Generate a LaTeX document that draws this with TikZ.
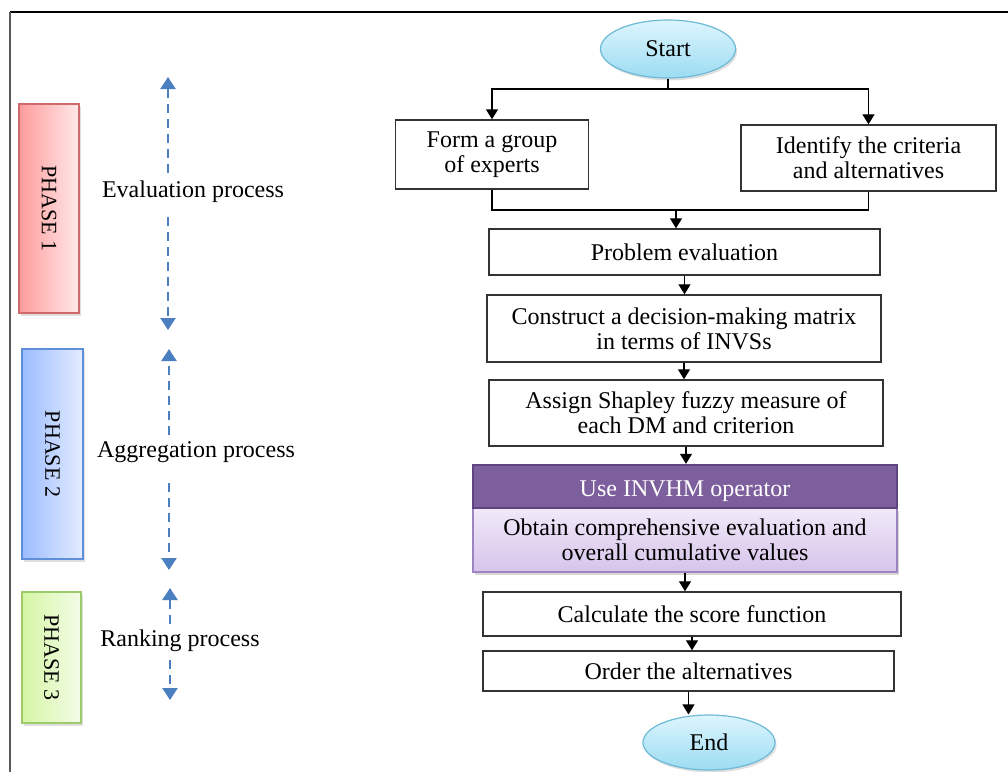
\documentclass[tikz,border=0pt]{standalone}
\usepackage{fontspec}
\setmainfont{Liberation Serif}
\usetikzlibrary{positioning,arrows.meta,shapes.geometric,shadows}
\definecolor{ovaltop}{HTML}{DDF5FD}
\definecolor{ovalbot}{HTML}{9CDCF2}
\definecolor{ovalline}{HTML}{6DBAD6}
\definecolor{opfill}{HTML}{7E5F9E}
\definecolor{opline}{HTML}{5E4580}
\definecolor{obtop}{HTML}{F1E9F9}
\definecolor{obbot}{HTML}{D6C4EA}
\definecolor{obline}{HTML}{9C84C0}
\definecolor{procblue}{HTML}{4C7FC0}
\definecolor{redleft}{HTML}{FF9C9C}
\definecolor{redright}{HTML}{FFE9E9}
\definecolor{redline}{HTML}{D06A6A}
\definecolor{blueleft}{HTML}{9CBDFF}
\definecolor{blueright}{HTML}{E4ECFF}
\definecolor{blueline}{HTML}{5E8FD8}
\definecolor{greenleft}{HTML}{D5F6A4}
\definecolor{greenright}{HTML}{F3FCE8}
\definecolor{greenline}{HTML}{9DCB6B}
\tikzset{
box/.style={
draw=black!80,
line width=0.7pt,
fill=white,
align=center,
inner sep=2pt,
font=\rmfamily\fontsize{12}{12.5}\selectfont
},
oval/.style={
ellipse,
draw=ovalline,
line width=0.6pt,
top color=ovaltop,
bottom color=ovalbot,
font=\rmfamily\fontsize{12}{13}\selectfont,
drop shadow={opacity=0.25,shadow xshift=0.8pt,shadow yshift=-1.2pt}
},
phase/.style={
draw,
line width=0.6pt,
minimum width=30pt,
font=\rmfamily\fontsize{11}{13}\selectfont,
drop shadow={opacity=0.25,shadow xshift=1pt,shadow yshift=-1.5pt}
},
proc/.style={
font=\rmfamily\fontsize{12}{13}\selectfont,
inner sep=3pt
},
arrow/.style={
-{Triangle[length=5pt,width=6pt]},
line width=0.65pt
},
dasharrow/.style={
-{Triangle[length=6pt,width=7.5pt]},
draw=procblue,
line width=1.35pt,
dash pattern=on 4.5pt off 3pt
}
}

\begin{document}
\begin{tikzpicture}[x=0.5pt,y=-0.5pt]
\useasboundingbox (0,0) rectangle (1008,772);

\draw[black,line width=1pt](10,12)--(1008,12);
\draw[black!65,line width=1pt](10,12)--(10,772);

\node[phase,draw=redline,left color=redleft,right color=redright,minimum height=104.5pt] (ph1) at (49,208.5){\rotatebox{-90}{PHASE 1}};
\node[phase,draw=blueline,left color=blueleft,right color=blueright,minimum height=105pt,minimum width=30.5pt] (ph2) at (52.5,454){\rotatebox{-90}{PHASE 2}};
\node[phase,draw=greenline,left color=greenleft,right color=greenright,minimum height=65.5pt,minimum width=29.5pt] (ph3) at (51.5,657.5){\rotatebox{-90}{PHASE 3}};

\node[proc](eval) at (193,192){Evaluation process};
\node[proc](aggr) at (196,452){Aggregation process};
\node[proc](rankp) at (180,641){Ranking process};

\coordinate (u1) at (168,77);
\coordinate (d1) at (168,330);
\coordinate (u2) at (169,349);
\coordinate (d2) at (169,570);
\coordinate (u3) at (170,588);
\coordinate (d3) at (170,700);
\draw[dasharrow]([yshift=1pt]eval.north -| u1)--(u1);
\draw[dasharrow]([yshift=-4pt]eval.south -| d1)--(d1);
\draw[dasharrow](aggr.north -| u2)--(u2);
\draw[dasharrow]([yshift=-7pt]aggr.south -| d2)--(d2);
\draw[dasharrow](rankp.north -| u3)--(u3);
\draw[dasharrow]([yshift=-1pt]rankp.south -| d3)--(d3);

\node[oval,minimum width=67.5pt,minimum height=29pt](start) at (668,49){Start};
\node[box,minimum width=96.5pt,minimum height=34.5pt](group) at (492,154.5){Form a group\\of experts};
\node[box,minimum width=127.5pt,minimum height=33pt](ident) at (868.5,158){Identify the criteria\\and alternatives};
\node[box,minimum width=195.5pt,minimum height=23pt](prob) at (684.5,252){Problem evaluation};
\node[box,minimum width=197pt,minimum height=33.5pt](constr) at (684,328.5){Construct a decision-making matrix\\in terms of INVSs};
\node[box,minimum width=197pt,minimum height=33pt](assign) at (686,413){Assign Shapley fuzzy measure of\\each DM and criterion};
\node[box,draw=obline,top color=obtop,bottom color=obbot,minimum width=212pt,minimum height=32pt,drop shadow={opacity=0.3,shadow xshift=1pt,shadow yshift=-1.5pt}](obtain) at (685,540){Obtain comprehensive evaluation and\\overall cumulative values};
\node[box,draw=opline,line width=1.2pt,fill=opfill,text=white,minimum width=212pt,minimum height=21.5pt](oper) at (685,486.5){\raisebox{-2.5pt}[\height][\depth]{Use INVHM operator}};
\node[box,minimum width=209pt,minimum height=22pt](score) at (692,614){Calculate the score function};
\node[box,minimum width=205.5pt,minimum height=20pt](order) at (688.5,671){Order the alternatives};
\node[oval,minimum width=66pt,minimum height=27.5pt](finish) at (709,742.5){End};

\coordinate (split) at (668,89);
\coordinate (merge) at (676,210);
\draw[line width=0.65pt](start)--(split);
\draw[arrow](split)-|(group.north);
\draw[arrow](split)-|(ident.north);
\draw[line width=0.65pt](group.south)|-(merge);
\draw[line width=0.65pt](ident.south)|-(merge);
\draw[arrow](merge)--(merge |- prob.north);

\foreach \x/\y in {prob/constr,constr/assign,assign/oper,obtain/score,score/order,order/finish}
\draw[arrow](\x.south)--(\x.south |- \y.north);

\end{tikzpicture}
\end{document}
